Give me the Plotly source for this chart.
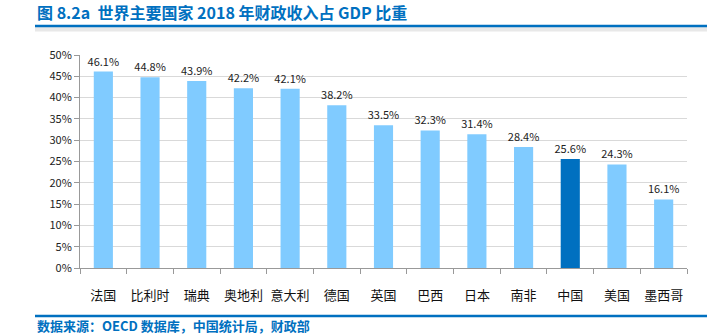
import plotly.graph_objects as go

countries = ["法国", "比利时", "瑞典", "奥地利", "意大利", "德国", "英国", "巴西", "日本", "南非", "中国", "美国", "墨西哥"]
values = [46.1, 44.8, 43.9, 42.2, 42.1, 38.2, 33.5, 32.3, 31.4, 28.4, 25.6, 24.3, 16.1]
tick_vals = [0, 5, 10, 15, 20, 25, 30, 35, 40, 45, 50]
tick_text = [f"{v}%" for v in tick_vals]

light = "#80CBFF"
dark = "#0070C0"
colors = [dark if c == "中国" else light for c in countries]

font = "Noto Sans CJK SC, sans-serif"

fig = go.Figure()
fig.add_trace(go.Bar(
    x=countries, y=values, marker_color=colors, marker_line_width=0,
    text=[f"{v:.1f}%" for v in values], textposition="outside",
    constraintext="none",
    textfont=dict(size=11, color="#222", family=font), cliponaxis=False,
))

def py(px):
    return (335 - 67 - px) / 213

def px_x(px):
    return (px - 80) / 607

fig.update_layout(
    width=719, height=335,
    margin=dict(l=80, r=32, t=55, b=67),
    paper_bgcolor="white", plot_bgcolor="white",
    bargap=0.59, showlegend=False,
    font=dict(family=font, color="#222"),
    xaxis=dict(type="category", showline=True, linecolor="#999", linewidth=1,
               ticks="outside", tickson="boundaries", ticklen=5, tickcolor="#999",
               tickangle=0, ticklabelstandoff=15,
               tickfont=dict(size=13, color="#111"), showgrid=False),
    yaxis=dict(range=[0, 50], tickvals=tick_vals, ticktext=tick_text,
               showline=True, linecolor="#999", linewidth=1,
               ticks="outside", ticklen=5, tickcolor="#999",
               gridcolor="#D9D9D9", gridwidth=1,
               tickfont=dict(size=11, color="#222"), zeroline=False),
    shapes=[
        dict(type="line", xref="paper", yref="paper",
             x0=px_x(35), x1=px_x(707), y0=py(29), y1=py(29),
             line=dict(color="#E8E8E8", width=5)),
        dict(type="line", xref="paper", yref="paper",
             x0=px_x(35), x1=px_x(707), y0=py(26), y1=py(26),
             line=dict(color=dark, width=2.5)),
        dict(type="line", xref="paper", yref="paper",
             x0=px_x(35), x1=px_x(707), y0=py(316), y1=py(316),
             line=dict(color=dark, width=2.5)),
    ],
    annotations=[
        dict(text="<b>图 8.2a  世界主要国家 2018 年财政收入占 GDP 比重</b>",
             xref="paper", yref="paper", x=px_x(35), y=py(12),
             xanchor="left", yanchor="middle", showarrow=False,
             font=dict(size=16, color=dark, family=font)),
        dict(text="<b>数据来源：OECD 数据库，中国统计局，财政部</b>",
             xref="paper", yref="paper", x=px_x(35), y=py(325),
             xanchor="left", yanchor="middle", showarrow=False,
             font=dict(size=13, color=dark, family=font)),
    ],
)

fig.write_html("out.html")
